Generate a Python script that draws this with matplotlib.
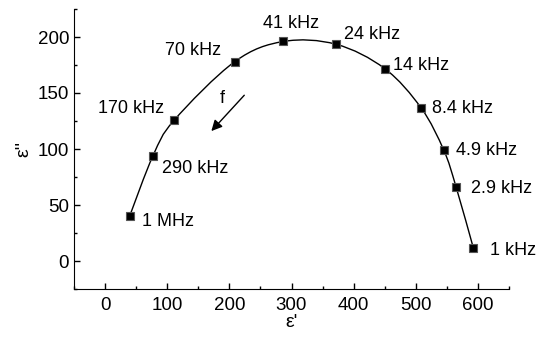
import numpy as np
import matplotlib
matplotlib.use("Agg")
import matplotlib.pyplot as plt
from matplotlib.path import Path
from matplotlib.patches import PathPatch
from matplotlib.ticker import MultipleLocator

plt.rcParams['font.family'] = ['Liberation Sans', 'DejaVu Sans']

# data
freq_labels = ['1 MHz', '290 kHz', '170 kHz', '70 kHz', '41 kHz', '24 kHz',
               '14 kHz', '8.4 kHz', '4.9 kHz', '2.9 kHz', '1 kHz']
eps_real = [39.5, 77, 111, 208.7, 287, 371.7, 450, 508.7, 545, 564.7, 592.8]
eps_imag = [40, 93.8, 125.6, 178, 196, 193.5, 171.8, 136.6, 99, 66.4, 11.3]

# label offsets in pixels (dx, dy, ha)
label_offsets = [(12, -5, 'left'), (9, -13, 'left'), (-10, 12, 'right'),
                 (-14, 11, 'right'), (8, 18, 'center'), (8, 10, 'left'),
                 (8, 3, 'left'), (11, 0, 'left'), (12, 0, 'left'),
                 (15, -2, 'left'), (17, -2, 'left')]

fig = plt.figure(figsize=(5.42, 3.40), dpi=100)
ax = fig.add_axes([74 / 542, 1 - 289 / 340, (509 - 74) / 542, (289 - 9) / 340])

# smooth curve through the points (Catmull-Rom as cubic Bezier segments)
pts = np.column_stack([eps_real, eps_imag])
verts = [pts[0]]
codes = [Path.MOVETO]
for i in range(len(pts) - 1):
    p0 = pts[i - 1] if i > 0 else pts[i]
    p1 = pts[i]
    p2 = pts[i + 1]
    p3 = pts[i + 2] if i + 2 < len(pts) else pts[i + 1]
    verts += [p1 + (p2 - p0) / 6, p2 - (p3 - p1) / 6, p2]
    codes += [Path.CURVE4] * 3
ax.add_patch(PathPatch(Path(verts, codes), fill=False, lw=1.0, color='black'))

ax.plot(eps_real, eps_imag, ls='none', marker='s', ms=6, mfc='black',
        mec='#555555', mew=0.8, zorder=3)

for lab, x, y, (dx, dy, ha) in zip(freq_labels, eps_real, eps_imag, label_offsets):
    ax.annotate(lab, (x, y), xytext=(dx, dy), textcoords='offset pixels',
                ha=ha, va='center', fontsize=13)

# frequency direction arrow
ax.annotate('', xy=(171, 116), xytext=(224, 148),
            arrowprops=dict(arrowstyle='-|>', color='black', lw=1.0,
                            mutation_scale=16, shrinkA=0, shrinkB=0))
ax.text(189, 145, 'f', fontsize=13, ha='center', va='center')

ax.set_xlim(-50, 650)
ax.set_ylim(-25, 225)
ax.xaxis.set_major_locator(MultipleLocator(100))
ax.xaxis.set_minor_locator(MultipleLocator(50))
ax.yaxis.set_major_locator(MultipleLocator(50))
ax.yaxis.set_minor_locator(MultipleLocator(25))
ax.tick_params(which='both', direction='in', labelsize=13.5, width=1)
ax.tick_params(which='major', length=4)
ax.tick_params(which='minor', length=2.5)
ax.tick_params(axis='x', pad=6)
ax.spines['top'].set_visible(False)
ax.spines['right'].set_visible(False)

ax.set_xlabel("ε'", fontsize=14, labelpad=0)
ax.set_ylabel("ε''", fontsize=14, labelpad=4)

fig.savefig('out.png', dpi=100)
